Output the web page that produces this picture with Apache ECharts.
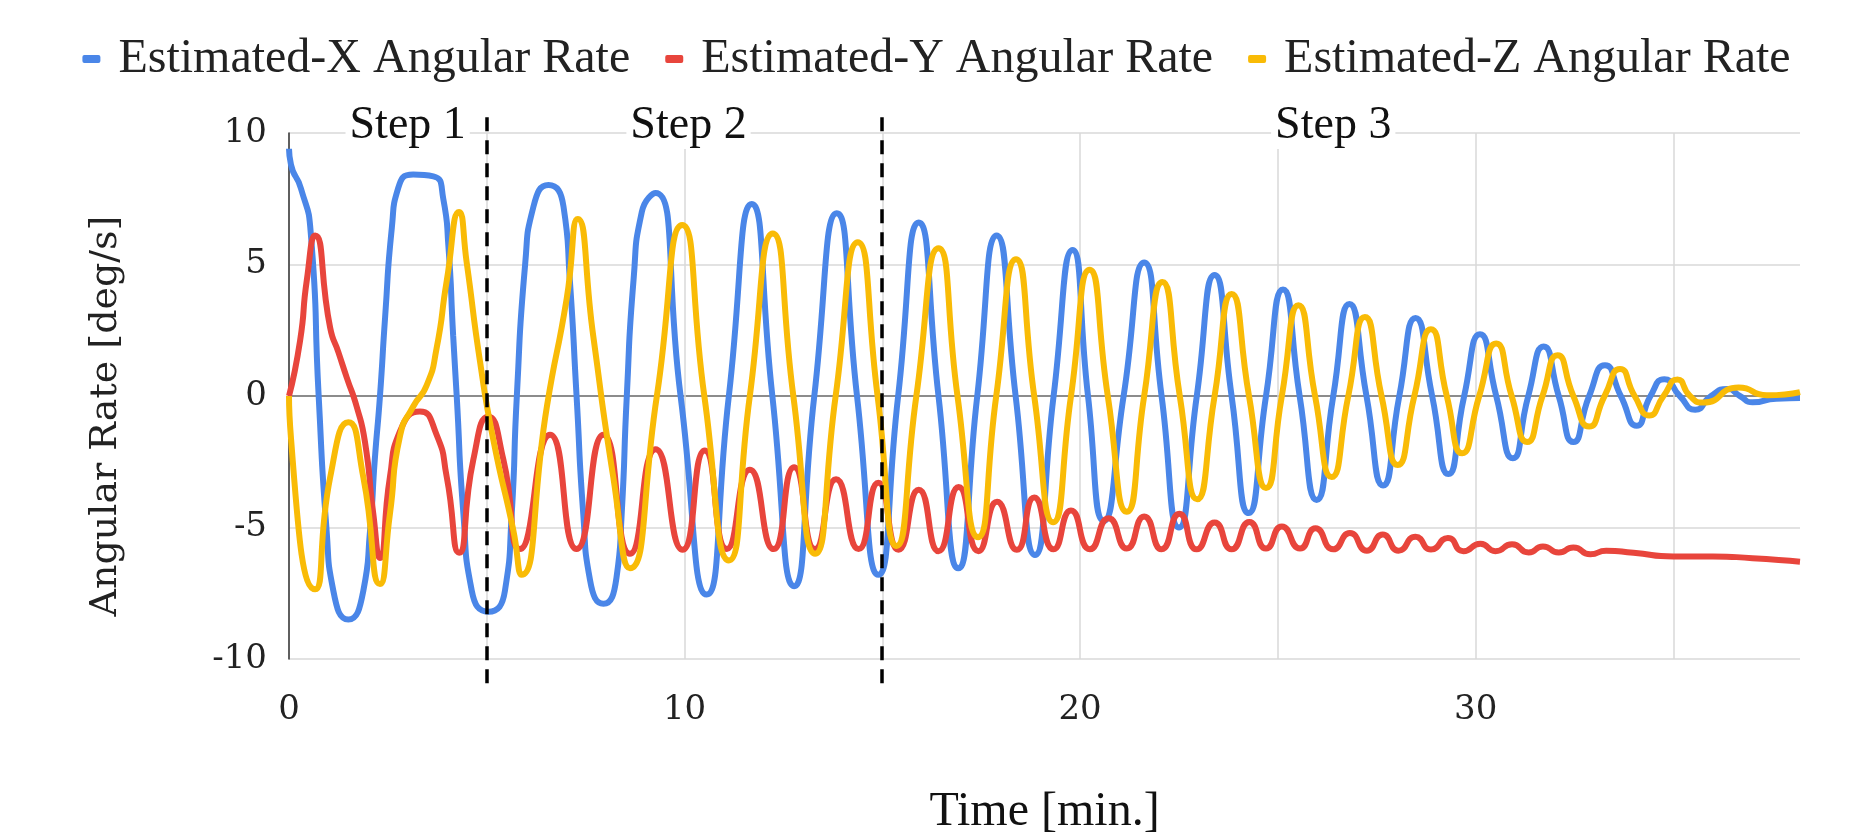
<!DOCTYPE html>
<html>
<head>
<meta charset="utf-8">
<title>Estimated Angular Rate</title>
<script src="https://cdn.jsdelivr.net/npm/echarts@6.0.0/dist/echarts.min.js"></script>
<style>
  html, body { margin: 0; padding: 0; background: #fff; }
  #chart { width: 1873px; height: 835px; }
</style>
</head>
<body>
<div id="chart"></div>
<script>
// series names (legend order)
var seriesNames = ['Estimated-X Angular Rate', 'Estimated-Y Angular Rate', 'Estimated-Z Angular Rate'];

// [time (min), rate (deg/s)]: peaks, troughs, zero crossings
var xRate = [
  [0, 9.4], [0.05, 8.8], [0.3, 7.9], [0.55, 6.2], [0.75, 0], [0.95, -5.1], [1.12, -7.4], [1.5, -8.5],
  [1.88, -7.4], [2.05, -5.1], [2.17, -2.4], [2.3, 0], [2.43, 3.0], [2.6, 6.4], [2.76, 7.9], [3.14, 8.42],
  [3.65, 8.35], [3.9, 7.5], [4.03, 5.7], [4.15, 2.3], [4.24, 0], [4.41, -4.5], [4.62, -7.4], [5.04, -8.2],
  [5.46, -7.4], [5.63, -4.5], [5.76, 0], [5.97, 5.0], [6.18, 7.2], [6.56, 8.02], [6.94, 7.2], [7.1, 4.4],
  [7.27, 0], [7.44, -4.5], [7.61, -7.0], [7.95, -7.9], [8.28, -6.9], [8.41, -4.5], [8.54, 0], [8.71, 4.4],
  [8.92, 7.0], [9.27, 7.72], [9.9, 0], [10.56, -7.55], [11.12, 0], [11.7, 7.3], [12.22, 0], [12.77, -7.23],
  [13.28, 0], [13.85, 6.95], [14.36, 0], [14.9, -6.8], [15.4, 0], [15.92, 6.6], [16.42, 0], [16.92, -6.55],
  [17.4, 0], [17.89, 6.1], [18.37, 0], [18.86, -6.05], [19.33, 0], [19.81, 5.55], [20.2, 0], [20.6, -4.75],
  [21.1, 0], [21.62, 5.08], [22.06, 0], [22.5, -5.0], [22.95, 0], [23.4, 4.6], [23.83, 0], [24.26, -4.45],
  [24.7, 0], [25.13, 4.05], [25.55, 0], [25.98, -3.95], [26.4, 0], [26.81, 3.5], [27.24, 0], [27.66, -3.4],
  [28.07, 0], [28.48, 2.97], [28.9, 0], [29.31, -2.97], [29.71, 0], [30.11, 2.35], [30.52, 0], [30.94, -2.37],
  [31.33, 0], [31.72, 1.88], [32.1, 0], [32.47, -1.75], [32.87, 0], [33.27, 1.17], [33.67, 0], [34.07, -1.13],
  [34.42, 0], [34.77, 0.64], [35.16, 0], [35.55, -0.52], [35.95, 0], [36.36, 0.27], [36.68, 0], [37.0, -0.24],
  [37.6, -0.1], [38.2, -0.08]
];

var yRate = [
  [0, 0], [0.28, 2.1], [0.45, 4.4], [0.66, 6.1], [1.04, 2.6], [1.25, 1.66], [1.46, 0.7], [1.71, -0.4],
  [1.92, -1.74], [2.13, -4.46], [2.3, -6.16], [2.55, -3.1], [2.81, -1.33], [3.31, -0.59], [3.73, -1.47],
  [3.99, -3.1], [4.3, -5.96], [4.66, -2.42], [5.04, -0.79], [5.42, -2.42], [5.84, -5.82], [6.6, -1.47],
  [7.27, -5.82], [7.95, -1.47], [8.62, -6.0], [9.27, -2.02], [9.95, -5.85], [10.51, -2.07], [11.07, -5.82],
  [11.65, -2.8], [12.25, -5.82], [12.77, -2.71], [13.3, -5.82], [13.83, -3.17], [14.4, -5.82], [14.9, -3.3],
  [15.41, -5.85], [15.92, -3.56], [16.42, -5.9], [16.93, -3.46], [17.43, -5.9], [17.9, -4.02], [18.4, -5.85],
  [18.84, -3.86], [19.33, -5.83], [19.77, -4.35], [20.25, -5.83], [20.72, -4.65], [21.18, -5.8], [21.62, -4.58],
  [22.06, -5.83], [22.51, -4.48], [22.95, -5.83], [23.4, -4.81], [23.83, -5.83], [24.28, -4.79], [24.7, -5.8],
  [25.1, -4.96], [25.56, -5.8], [25.95, -5.03], [26.4, -5.83], [26.82, -5.21], [27.25, -5.88], [27.65, -5.27],
  [28.05, -5.88], [28.48, -5.35], [28.87, -5.84], [29.3, -5.4], [29.69, -5.9], [30.12, -5.62], [30.5, -5.9],
  [30.92, -5.64], [31.34, -5.95], [31.7, -5.72], [32.1, -5.95], [32.47, -5.76], [32.9, -6.02], [33.3, -5.88],
  [33.99, -5.96], [35.0, -6.1], [36.0, -6.1], [37.0, -6.17], [38.2, -6.3]
];

var zRate = [
  [0, 0], [0.05, -1.6], [0.66, -7.35], [1.04, -3.1], [1.5, -1.0], [1.88, -3.1], [2.3, -7.15], [2.55, -4.5],
  [2.81, -1.5], [3.14, -0.4], [3.48, 0.4], [3.73, 1.8], [3.99, 4.4], [4.3, 7.0], [4.49, 5.1], [4.83, 1.3],
  [5.17, -1.7], [5.67, -5.1], [5.88, -6.8], [6.52, -0.4], [7.02, 3.7], [7.3, 6.73], [7.69, 2.3], [8.2, -3.1],
  [8.62, -6.55], [9.3, 0], [9.94, 6.5], [10.5, 0], [11.12, -6.25], [11.65, 0], [12.23, 6.18], [12.75, 0],
  [13.3, -6.0], [13.82, 0], [14.38, 5.85], [14.88, 0], [15.36, -5.7], [15.86, 0], [16.42, 5.62], [16.9, 0],
  [17.42, -5.37], [17.88, 0], [18.38, 5.2], [18.84, 0], [19.32, -4.8], [19.77, 0], [20.24, 4.8], [20.7, 0],
  [21.18, -4.4], [21.62, 0], [22.08, 4.33], [22.52, 0], [22.96, -3.93], [23.4, 0], [23.83, 3.88], [24.27, 0],
  [24.7, -3.5], [25.1, 0], [25.52, 3.45], [25.94, 0], [26.36, -3.08], [26.78, 0], [27.2, 3.0], [27.62, 0],
  [28.03, -2.62], [28.45, 0], [28.87, 2.54], [29.27, 0], [29.66, -2.18], [30.09, 0], [30.52, 2.0], [30.91, 0],
  [31.3, -1.75], [31.69, 0], [32.07, 1.55], [32.47, 0], [32.87, -1.16], [33.26, 0], [33.65, 1.03], [34.02, 0],
  [34.39, -0.74], [34.75, 0], [35.1, 0.63], [35.42, 0], [35.75, -0.25], [36.65, 0.32], [37.36, 0.03], [38.2, 0.15]
];

// step annotations
var stepBounds = [5, 15];
var stepNames = ['Step 1', 'Step 2', 'Step 3'];
var stepLabelX = [3, 10.1, 26.4];
var stepLabelY = 10.27;

var chart = echarts.init(document.getElementById('chart'));
var option = {
  animation: false,
  color: ['#4a86e8', '#e8453c', '#f9bb06'],
  legend: {
    data: seriesNames,
    left: 'center',
    top: 30,
    icon: 'roundRect',
    itemWidth: 18,
    itemHeight: 8,
    itemGap: 35,
    textStyle: { fontFamily: 'Liberation Serif', fontSize: 48, color: '#222', padding: [0, 0, 0, 13] }
  },
  grid: { left: 289, right: 73, top: 133, bottom: 176, outerBoundsMode: 'none' },
  xAxis: {
    type: 'value',
    min: 0,
    max: 38.2,
    interval: 5,
    name: 'Time [min.]',
    nameLocation: 'middle',
    nameGap: 129,
    nameTextStyle: { fontFamily: 'Liberation Serif', fontSize: 48, color: '#111' },
    axisLine: { show: false },
    axisTick: { show: false },
    axisLabel: {
      fontFamily: 'DejaVu Serif',
      fontSize: 34,
      color: '#222',
      margin: 34,
      formatter: function (v) { return v % 10 === 0 ? String(v) : ''; }
    },
    splitLine: { show: true, showMaxLine: false, lineStyle: { color: '#d9d9d9', width: 1.5 } }
  },
  yAxis: {
    type: 'value',
    min: -10,
    max: 10,
    interval: 5,
    name: 'Angular Rate [deg/s]',
    nameLocation: 'middle',
    nameGap: 164,
    nameTextStyle: { fontFamily: 'DejaVu Serif', fontSize: 38, color: '#222', padding: [0, 40, 0, 0] },
    axisLine: { show: true, lineStyle: { color: '#333', width: 1.5 } },
    axisTick: { show: false },
    axisLabel: { fontFamily: 'DejaVu Serif', fontSize: 34, color: '#222', margin: 22 },
    splitLine: { lineStyle: { color: ['#d9d9d9', '#d9d9d9', '#666', '#d9d9d9', '#d9d9d9'], width: 1.5 } }
  },
  series: [
    { name: seriesNames[0], type: 'line', data: xRate, showSymbol: false, smooth: 0.6, lineStyle: { width: 6 } },
    { name: seriesNames[1], type: 'line', data: yRate, showSymbol: false, smooth: 0.6, lineStyle: { width: 6 } },
    { name: seriesNames[2], type: 'line', data: zRate, showSymbol: false, smooth: 0.6, lineStyle: { width: 6 } }
  ]
};
chart.setOption(option);

// dashed step separators and step labels, placed through the axes
var yTop = chart.convertToPixel({ yAxisIndex: 0 }, 10.6);
var yBottom = chart.convertToPixel({ yAxisIndex: 0 }, -11.2);
var graphics = [];
stepBounds.forEach(function (x) {
  var px = Math.round(chart.convertToPixel({ xAxisIndex: 0 }, x));
  graphics.push({
    type: 'line',
    shape: { x1: px, y1: yTop, x2: px, y2: yBottom },
    style: { stroke: '#000', lineWidth: 3.5, lineDash: [14, 9] },
    z: 10
  });
});
stepNames.forEach(function (name, i) {
  var p = chart.convertToPixel({ gridIndex: 0 }, [stepLabelX[i], stepLabelY]);
  graphics.push({
    type: 'text',
    x: p[0],
    y: p[1],
    style: {
      text: name,
      fontFamily: 'Liberation Serif',
      fontSize: 46,
      fill: '#111',
      align: 'center',
      verticalAlign: 'middle',
      backgroundColor: '#fff',
      padding: [0, 4]
    },
    z: 9
  });
});
chart.setOption({ graphic: graphics });

window.addEventListener('resize', function () {
  chart.resize();
});
</script>
</body>
</html>
